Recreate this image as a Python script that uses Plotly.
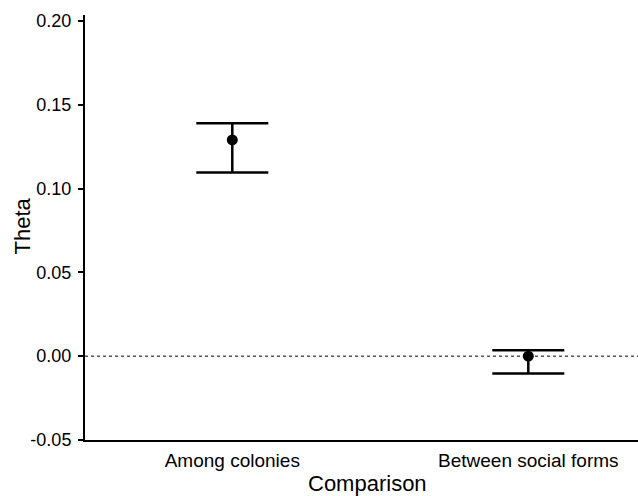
import plotly.graph_objects as go

categories = ["Among colonies", "Between social forms"]
theta = [0.129, 0.0]
upper = [0.139, 0.0036]
lower = [0.1095, -0.0103]
y_ticks = [-0.05, 0.0, 0.05, 0.10, 0.15, 0.20]
y_tick_text = ["-0.05", "0.00", "0.05", "0.10", "0.15", "0.20"]

xpos = list(range(len(categories)))
err_plus = [u - m for u, m in zip(upper, theta)]
err_minus = [m - l for m, l in zip(theta, lower)]

fig = go.Figure()
fig.add_trace(go.Scatter(
    x=xpos, y=theta, mode="markers",
    marker=dict(color="black", size=11),
    error_y=dict(type="data", symmetric=False, array=err_plus, arrayminus=err_minus,
                 color="black", thickness=2.5, width=36),
    showlegend=False, hoverinfo="skip",
))

fig.add_shape(type="line", xref="paper", yref="y", x0=0, x1=1, y0=0, y1=0,
              line=dict(color="black", width=1, dash="dot"), layer="below")

fig.update_layout(
    width=638, height=496,
    margin=dict(l=85, r=0, t=15, b=56),
    paper_bgcolor="white", plot_bgcolor="white",
    font=dict(family="Liberation Sans, Arial, sans-serif", color="black"),
    xaxis=dict(range=[-0.4976, 1.3706], tickvals=xpos, ticktext=categories,
               showgrid=False, zeroline=False, showline=True, linecolor="black",
               linewidth=2, ticks="", tickfont=dict(size=19), ticklabelstandoff=2),
    yaxis=dict(range=[-0.05, 0.2035], tickvals=y_ticks, ticktext=y_tick_text,
               showgrid=False, zeroline=False, showline=True, linecolor="black",
               linewidth=2, ticks="outside", ticklen=5, tickwidth=1.5, tickcolor="black",
               tickfont=dict(size=18), ticklabelstandoff=3),
    annotations=[
        dict(text="Comparison", xref="paper", yref="paper", x=0.51, y=-0.1035,
             xanchor="center", yanchor="middle", showarrow=False, font=dict(size=22)),
        dict(text="Theta", xref="paper", yref="paper", x=-0.113, y=0.5035,
             xanchor="center", yanchor="middle", textangle=-90, showarrow=False,
             font=dict(size=22)),
    ],
)

fig.write_html("out.html")
